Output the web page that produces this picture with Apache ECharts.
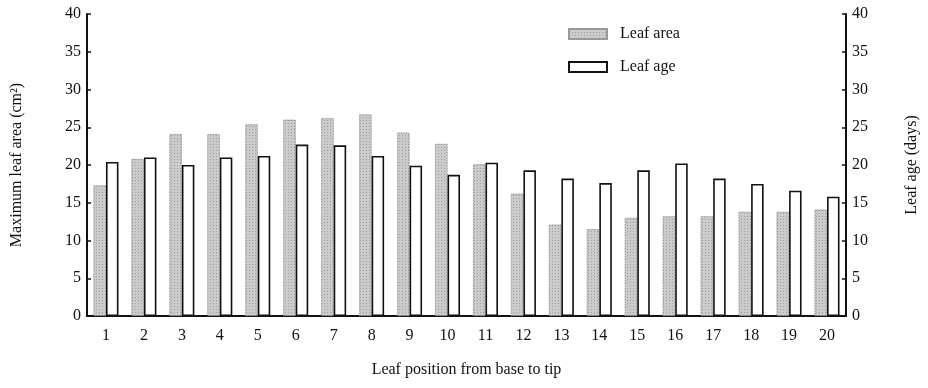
<!DOCTYPE html>
<html>
<head>
<meta charset="utf-8">
<script src="https://cdn.jsdelivr.net/npm/echarts@6/dist/echarts.min.js"></script>
<style>html,body{margin:0;padding:0;background:#fff}#c{width:928px;height:388px}</style>
</head>
<body>
<div id="c"></div>
<script>
const categories = ['1','2','3','4','5','6','7','8','9','10','11','12','13','14','15','16','17','18','19','20'];
const leafArea = [17.3, 20.8, 24.1, 24.1, 25.4, 26.0, 26.2, 26.7, 24.3, 22.8, 20.1, 16.2, 12.1, 11.5, 13.0, 13.2, 13.2, 13.8, 13.8, 14.1];
const leafAge = [20.4, 21.0, 20.0, 21.0, 21.2, 22.7, 22.6, 21.2, 19.9, 18.7, 20.3, 19.3, 18.2, 17.6, 19.3, 20.2, 18.2, 17.5, 16.6, 15.8];
const yTicks = [0, 5, 10, 15, 20, 25, 30, 35, 40];

const font = 'Liberation Serif';
const chart = echarts.init(document.getElementById('c'));
const yAxisBase = {
  type: 'value', min: yTicks[0], max: yTicks[yTicks.length - 1], interval: yTicks[1] - yTicks[0],
  splitLine: { show: false },
  axisLine: { show: true, lineStyle: { color: '#111', width: 2 } },
  axisTick: { show: true, inside: true, length: 4, lineStyle: { color: '#111', width: 1.5 } },
  axisLabel: { color: '#111', fontFamily: font, fontSize: 16, margin: 6 },
  nameLocation: 'middle', nameRotate: 90,
  nameTextStyle: { color: '#111', fontFamily: font, fontSize: 16 }
};
chart.setOption({
  animation: false,
  grid: { left: 87, right: 80, top: 14, bottom: 72 },
  legend: {
    orient: 'vertical', left: 563, top: 21, itemWidth: 38, itemHeight: 10, itemGap: 17, icon: 'rect',
    textStyle: { color: '#111', fontFamily: font, fontSize: 16, padding: [0, 0, 0, 8] },
    data: ['Leaf area', 'Leaf age']
  },
  xAxis: {
    type: 'category', data: categories,
    axisLine: { lineStyle: { color: '#111', width: 2 } },
    axisTick: { show: false },
    axisLabel: { color: '#111', fontFamily: font, fontSize: 16, margin: 12 },
    name: 'Leaf position from base to tip', nameLocation: 'middle', nameGap: 46,
    nameTextStyle: { color: '#111', fontFamily: font, fontSize: 16 }
  },
  yAxis: [
    Object.assign({}, yAxisBase, { name: 'Maximum leaf area (cm²)', nameGap: 62, position: 'left' }),
    Object.assign({}, yAxisBase, { name: 'Leaf age (days)', nameGap: 58, position: 'right' })
  ],
  series: [
    {
      name: 'Leaf area', type: 'bar', data: leafArea, yAxisIndex: 0,
      barWidth: 12.5, barGap: '0%',
      itemStyle: {
        color: '#cbcbcb', borderColor: '#999', borderWidth: 0.8, borderType: 'dotted',
        decal: { symbol: 'rect', symbolSize: 1, color: 'rgba(80,80,80,0.35)', dashArrayX: [1, 2], dashArrayY: [1, 2], rotation: 0 }
      }
    },
    {
      name: 'Leaf age', type: 'bar', data: leafAge, yAxisIndex: 1,
      barWidth: 12.5,
      itemStyle: { color: '#fff', borderColor: '#111', borderWidth: 1.6 }
    }
  ]
});
</script>
</body>
</html>
